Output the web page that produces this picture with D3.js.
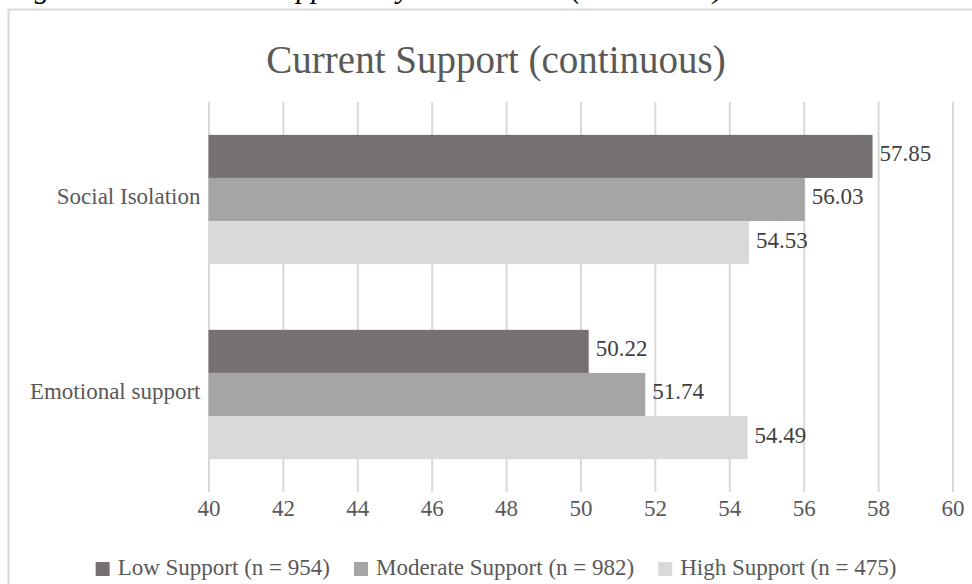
<!DOCTYPE html>
<html><head><meta charset="utf-8">
<script src="https://cdn.jsdelivr.net/npm/d3@7"></script>
<style>body{margin:0;background:#fff}svg{display:block}</style>
</head><body><svg id="c" width="972" height="584"></svg>
<script>
const captionText = "Figure 2. Current Support by Outcomes (continuous)";
const titleText = "Current Support (continuous)";
const categories = ["Social Isolation", "Emotional support"];
const seriesNames = ["Low Support (n = 954)", "Moderate Support (n = 982)", "High Support (n = 475)"];
const lowValues = [57.85, 50.22];
const moderateValues = [56.03, 51.74];
const highValues = [54.53, 54.49];
const seriesColors = ["#767171", "#a5a5a5", "#d9d9d9"];
const xTicks = [40, 42, 44, 46, 48, 50, 52, 54, 56, 58, 60];

const seriesValues = [lowValues, moderateValues, highValues];
const font = "'Liberation Serif','Times New Roman',serif";
const svg = d3.select("#c");
svg.append("rect").attr("width", 972).attr("height", 584).attr("fill", "#fff");

// caption (cut off at top, as in the reference)
svg.append("text").attr("x", 8).attr("y", -2)
  .attr("font-family", font).attr("font-style", "italic").attr("font-size", 30)
  .attr("word-spacing", 13).attr("fill", "#000").text(captionText);

// chart area border
svg.append("rect").attr("x", 8.5).attr("y", 9.5).attr("width", 980).attr("height", 600)
  .attr("fill", "#fff").attr("stroke", "#d9d9d9").attr("stroke-width", 2);

// title
svg.append("text").attr("x", 496).attr("y", 73).attr("text-anchor", "middle")
  .attr("font-family", font).attr("font-size", 39).attr("fill", "#595959").text(titleText);

const plotTop = 102, plotBottom = 492;
const x = d3.scaleLinear().domain([40, 60]).range([208.5, 952.5]);
const y = d3.scaleBand().domain(categories).range([plotTop, plotBottom])
  .paddingInner(0.337).paddingOuter(0.1685);
const ys = d3.scaleBand().domain(seriesNames).range([0, y.bandwidth()]);

// gridlines
const grid = svg.append("g").attr("transform", `translate(0,${plotBottom})`)
  .call(d3.axisBottom(x).tickValues(xTicks).tickSize(-(plotBottom - plotTop)).tickFormat(""));
grid.select(".domain").remove();
grid.selectAll("line").attr("stroke", "#d9d9d9").attr("stroke-width", 2);

// x tick labels
const xa = svg.append("g").attr("transform", `translate(0,${plotBottom})`)
  .call(d3.axisBottom(x).tickValues(xTicks).tickSize(0).tickFormat(d3.format("d")));
xa.select(".domain").remove();
xa.selectAll("text").attr("y", 24).attr("dy", 0)
  .attr("font-family", font).attr("font-size", 23).attr("fill", "#595959");

// bars
const groups = svg.append("g").selectAll("g").data(categories).join("g")
  .attr("transform", d => `translate(0,${y(d)})`);
groups.each(function (cat, ci) {
  const g = d3.select(this);
  seriesNames.forEach((s, si) => {
    const v = seriesValues[si][ci];
    g.append("rect").attr("x", x(40)).attr("y", ys(s))
      .attr("width", x(v) - x(40)).attr("height", ys.bandwidth())
      .attr("fill", seriesColors[si]);
    g.append("text").attr("x", x(v) + 7).attr("y", ys(s) + ys.bandwidth() / 2 + 5)
      .attr("font-family", font).attr("font-size", 23).attr("fill", "#404040")
      .text(v.toFixed(2));
  });
});

// category labels
const ya = svg.append("g").attr("transform", `translate(${x(40)},0)`)
  .call(d3.axisLeft(y).tickSize(0).tickPadding(8));
ya.select(".domain").remove();
ya.selectAll("text").attr("font-family", font).attr("font-size", 23).attr("fill", "#595959")
  .attr("dy", "0.2em");

// legend
const legend = svg.append("g");
const items = legend.selectAll("g").data(seriesNames).join("g");
items.append("rect").attr("y", 562).attr("width", 14).attr("height", 14)
  .attr("fill", (d, i) => seriesColors[i]);
items.append("text").attr("x", 22).attr("y", 575)
  .attr("font-family", font).attr("font-size", 23).attr("fill", "#595959").text(d => d);
let widths = [];
items.each(function () { widths.push(22 + d3.select(this).select("text").node().getComputedTextLength()); });
const gap = 24;
const total = d3.sum(widths) + gap * (widths.length - 1);
let cx = 496 - total / 2;
items.each(function (d, i) {
  d3.select(this).attr("transform", `translate(${cx},0)`);
  cx += widths[i] + gap;
});
</script></body></html>
